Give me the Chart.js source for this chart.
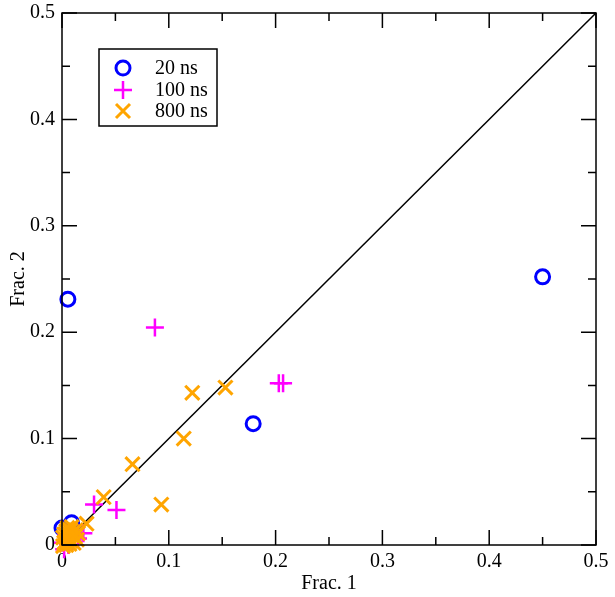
<!DOCTYPE html>
<html>
<head>
<meta charset="utf-8">
<script src="https://cdn.jsdelivr.net/npm/chart.js@4"></script>
<style>
  body { margin: 0; background: #fff; }
  #wrap { width: 615px; height: 597px; }
</style>
</head>
<body>
<div id="wrap"><canvas id="chart" width="615" height="597"></canvas></div>
<script>
// 数据 (Frac. 1, Frac. 2)
const ns20 = [
  [0.450, 0.252], [0.0055, 0.231], [0.179, 0.114],
  [0.000, 0.016], [0.009, 0.021], [0.004, 0.005]
];
const ns100 = [
  [0.087, 0.2045], [0.203, 0.152], [0.207, 0.152],
  [0.030, 0.038], [0.051, 0.033], [0.002, -0.004],
  [0.001, 0.002], [0.006, 0.000], [0.015, 0.006],
  [0.020, 0.011], [0.010, 0.004], [0.004, 0.009]
];
const ns800 = [
  [0.122, 0.143], [0.153, 0.148], [0.114, 0.100],
  [0.066, 0.076], [0.039, 0.045], [0.093, 0.038],
  [0.023, 0.020], [0.002, 0.002], [0.005, 0.008],
  [0.008, 0.004], [0.010, 0.012], [0.012, 0.008],
  [0.004, 0.013], [0.015, 0.011], [0.007, 0.001],
  [0.001, 0.007], [0.003, 0.010], [0.003, 0.003],
  [0.006, 0.006], [0.009, 0.009], [0.014, 0.005],
  [0.011, 0.002], [0.006, 0.011], [0.002, 0.010],
  [0.004, 0.000], [0.008, 0.014], [0.013, 0.014],
  [0.001, -0.001], [0.009, 0.017], [0.005, 0.016]
];
const diagonal = [[0, 0], [0.5, 0.5]];
const tickLabels = ["0", "0.1", "0.2", "0.3", "0.4", "0.5"];
const seriesNames = ["20 ns", "100 ns", "800 ns"];

const FONT = "'Liberation Serif', 'DejaVu Serif', serif";
const toXY = arr => arr.map(p => ({ x: p[0], y: p[1] }));

// 边框、内向刻度和图例
const framePlugin = {
  id: "frame",
  afterDraw(chart) {
    const ctx = chart.ctx;
    const a = chart.chartArea;
    const xs = chart.scales.x, ys = chart.scales.y;
    ctx.save();
    ctx.strokeStyle = "#000";
    ctx.lineWidth = 1.5;
    ctx.strokeRect(a.left, a.top, a.right - a.left, a.bottom - a.top);
    ctx.beginPath();
    for (let i = 0; i <= 10; i++) {
      const v = i * 0.05;
      const len = i % 2 === 0 ? 15 : 8;
      const px = xs.getPixelForValue(v);
      const py = ys.getPixelForValue(v);
      ctx.moveTo(px, a.bottom); ctx.lineTo(px, a.bottom - len);
      ctx.moveTo(px, a.top); ctx.lineTo(px, a.top + len);
      ctx.moveTo(a.left, py); ctx.lineTo(a.left + len, py);
      ctx.moveTo(a.right, py); ctx.lineTo(a.right - len, py);
    }
    ctx.stroke();

    // 图例
    ctx.lineWidth = 1.5;
    ctx.strokeRect(99, 49, 118, 77);
    const rows = [68, 90, 111];
    const sx = 123;
    ctx.lineWidth = 3;
    ctx.strokeStyle = "#0000ff";
    ctx.beginPath(); ctx.arc(sx, rows[0], 7, 0, Math.PI * 2); ctx.stroke();
    ctx.lineWidth = 2.5;
    ctx.strokeStyle = "#ff00ff";
    ctx.beginPath();
    ctx.moveTo(sx - 9, rows[1]); ctx.lineTo(sx + 9, rows[1]);
    ctx.moveTo(sx, rows[1] - 9); ctx.lineTo(sx, rows[1] + 9);
    ctx.stroke();
    ctx.lineWidth = 3;
    ctx.strokeStyle = "#ffa500";
    ctx.beginPath();
    ctx.moveTo(sx - 7, rows[2] - 7); ctx.lineTo(sx + 7, rows[2] + 7);
    ctx.moveTo(sx - 7, rows[2] + 7); ctx.lineTo(sx + 7, rows[2] - 7);
    ctx.stroke();
    ctx.fillStyle = "#000";
    ctx.font = "20px " + FONT;
    ctx.textBaseline = "middle";
    seriesNames.forEach((n, i) => ctx.fillText(n, 155, rows[i] + 1));
    ctx.restore();
  }
};

new Chart(document.getElementById("chart"), {
  type: "scatter",
  data: {
    datasets: [
      {
        label: seriesNames[0], data: toXY(ns20), pointStyle: "circle", order: 2,
        pointRadius: 7, borderColor: "#0000ff", backgroundColor: "transparent",
        pointBorderWidth: 3, clip: false
      },
      {
        label: seriesNames[1], data: toXY(ns100), pointStyle: "cross", order: 1,
        pointRadius: 9, borderColor: "#ff00ff", backgroundColor: "#ff00ff",
        pointBorderWidth: 2.5, clip: false
      },
      {
        label: seriesNames[2], data: toXY(ns800), pointStyle: "crossRot", order: 0,
        pointRadius: 10, borderColor: "#ffa500", backgroundColor: "#ffa500",
        pointBorderWidth: 3, clip: false
      },
      {
        type: "line", label: "y=x", data: toXY(diagonal), borderColor: "#000", order: 3,
        borderWidth: 1.5, pointRadius: 0, showLine: true, fill: false
      }
    ]
  },
  options: {
    responsive: false,
    animation: false,
    events: [],
    layout: { padding: { top: 12, right: 19, left: 0, bottom: 0 } },
    plugins: { legend: { display: false }, tooltip: { enabled: false } },
    scales: {
      x: {
        type: "linear", min: 0, max: 0.5,
        grid: { display: false, drawTicks: false }, border: { display: false },
        afterFit: s => { s.height = 52; s.paddingLeft = 0; s.paddingRight = 0; },
        ticks: {
          stepSize: 0.1, padding: 5, color: "#000",
          font: { family: FONT, size: 20 },
          callback: (v, i) => tickLabels[i]
        },
        title: {
          display: true, text: "Frac. 1", color: "#000",
          font: { family: FONT, size: 20 }, padding: { top: 0, bottom: 1 }
        }
      },
      y: {
        type: "linear", min: 0, max: 0.5,
        grid: { display: false, drawTicks: false }, border: { display: false },
        afterFit: s => { s.width = 62; s.paddingTop = 0; s.paddingBottom = 0; },
        ticks: {
          stepSize: 0.1, padding: 7, color: "#000",
          font: { family: FONT, size: 20 },
          callback: (v, i) => tickLabels[i]
        },
        title: {
          display: true, text: "Frac. 2", color: "#000",
          font: { family: FONT, size: 20 }, padding: { top: 7, bottom: 0 }
        }
      }
    }
  },
  plugins: [framePlugin]
});
</script>
</body>
</html>
